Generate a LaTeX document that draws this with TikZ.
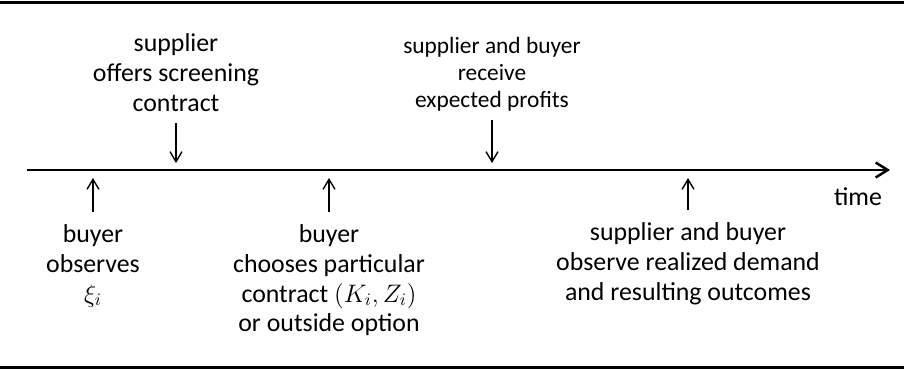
\documentclass[tikz,border=0pt]{standalone}
\usepackage{fontspec}
\setmainfont{Carlito}
\usepackage{amsmath}
\usetikzlibrary{arrows.meta,positioning}
\begin{document}
\begin{tikzpicture}
	\tikzstyle{lbl}=[align=center,inner sep=0,font=\fontsize{14.7}{17}\selectfont]
	\tikzstyle{evt}=[line width=0.8pt,-{Straight Barb[length=0.2cm,width=0.24cm]}]
	\useasboundingbox (0,0) rectangle (18.08,-7.38);

	\draw[line width=0.06cm] (0,-0.04) -- (18.08,-0.04);
	\draw[line width=0.06cm] (0,-7.34) -- (18.08,-7.34);

	\coordinate (start) at (0.54,-3.4);
	\coordinate (end) at (17.8,-3.4);
	\draw[line width=0.05cm,-{Straight Barb[length=0.24cm,width=0.3cm]}] (start) -- (end);
	\node[lbl,anchor=base] (time) at (17.16,-4.1) {time};

	\coordinate (t0) at (1.86,-3.4);
	\coordinate (t1) at (3.52,-3.4);
	\coordinate (t2) at (9.84,-3.4);
	\coordinate (t3) at (6.58,-3.4);
	\coordinate (t4) at (13.76,-3.4);

	\node[lbl,above=1.16cm of t1] (offer) {supplier\\offers screening\\contract};
	\node[lbl,above=1.16cm of t2,font=\fontsize{13.3}{15.6}\selectfont] (profit) {supplier and buyer\\receive\\expected profits};
	\node[lbl,below=1.08cm of t0] (observe) {buyer\\observes\\$\xi_i$};
	\node[lbl,below=1.08cm of t3] (choose) {buyer\\chooses particular\\contract $(K_i,Z_i)$\\or outside option};
	\node[lbl,below=1.04cm of t4] (demand) {supplier and buyer\\observe realized demand\\and resulting outcomes};

	\draw[evt,shorten <=0.22cm,shorten >=0.14cm] (offer) -- (t1);
	\draw[evt,shorten <=0.16cm,shorten >=0.14cm] (profit) -- (t2);
	\foreach \n/\t in {observe/t0,choose/t3,demand/t4}
		\draw[evt,shorten <=0.24cm,shorten >=0.16cm] (\n) -- (\t);
\end{tikzpicture}
\end{document}
